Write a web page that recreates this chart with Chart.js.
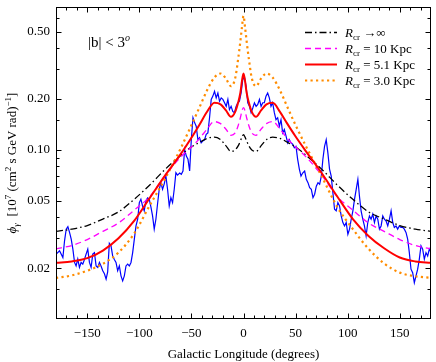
<!DOCTYPE html>
<html>
<head>
<meta charset="utf-8">
<script src="https://cdn.jsdelivr.net/npm/chart.js@4.4.0/dist/chart.umd.min.js"></script>
<style>
  html, body { margin: 0; padding: 0; background: #fff; }
</style>
</head>
<body>
<canvas id="fluxChart" width="436" height="362"></canvas>
<script>
// longitude grid of the model curves (degrees)
const modelLon = [-180, -165, -150, -135, -120, -105, -90, -75, -60, -50, -42, -35, -28, -22, -17, -12, -8, -5, -3, -1.5, 0,
  1.5, 3, 5, 8, 12, 17, 22, 28, 35, 42, 50, 60, 75, 90, 105, 120, 135, 150, 165, 180];

// R_cr -> infinity
const fluxRinf = [0.033, 0.034, 0.0357, 0.039, 0.043, 0.051, 0.062, 0.077, 0.093, 0.104, 0.111, 0.117, 0.119, 0.115, 0.106, 0.098, 0.100, 0.106, 0.113, 0.119, 0.123,
  0.119, 0.113, 0.106, 0.100, 0.098, 0.106, 0.115, 0.119, 0.117, 0.111, 0.104, 0.093, 0.077, 0.062, 0.051, 0.043, 0.039, 0.0357, 0.034, 0.033];
// R_cr = 10 Kpc
const fluxR10 = [0.026, 0.0272, 0.0295, 0.033, 0.037, 0.044, 0.053, 0.071, 0.091, 0.104, 0.117, 0.133, 0.147, 0.143, 0.133, 0.122, 0.126, 0.140, 0.155, 0.170, 0.178,
  0.170, 0.155, 0.140, 0.126, 0.122, 0.133, 0.143, 0.147, 0.133, 0.117, 0.104, 0.091, 0.071, 0.053, 0.044, 0.037, 0.033, 0.0295, 0.0272, 0.026];
// R_cr = 5.1 Kpc
const fluxR51 = [0.0215, 0.0219, 0.0229, 0.0254, 0.030, 0.038, 0.052, 0.071, 0.095, 0.118, 0.142, 0.168, 0.190, 0.186, 0.172, 0.157, 0.168, 0.192, 0.218, 0.255, 0.283,
  0.255, 0.218, 0.192, 0.168, 0.157, 0.172, 0.186, 0.190, 0.168, 0.143, 0.120, 0.098, 0.073, 0.053, 0.039, 0.031, 0.0262, 0.0231, 0.0219, 0.0215];
// R_cr = 3.0 Kpc
const fluxR30 = [0.0175, 0.0181, 0.0193, 0.0212, 0.0247, 0.032, 0.047, 0.068, 0.103, 0.140, 0.180, 0.225, 0.268, 0.283, 0.265, 0.238, 0.265, 0.350, 0.440, 0.530, 0.620,
  0.530, 0.440, 0.350, 0.265, 0.238, 0.265, 0.283, 0.268, 0.225, 0.180, 0.140, 0.105, 0.070, 0.046, 0.034, 0.026, 0.0213, 0.0188, 0.0179, 0.0175];

// measured profile (blue)
const obsLon = [-179.8, -176.6, -173.4, -171.8, -170.2, -168.6, -167.0, -165.4, -163.8, -162.2, -160.7, -159.1, -157.5, -155.9, -154.3, -152.7,
  -151.1, -149.5, -147.9, -146.3, -144.7, -143.1, -141.5, -139.9, -138.3, -136.7, -135.1, -133.5, -131.9, -130.4, -128.8, -127.2,
  -125.6, -124.0, -122.4, -120.8, -119.2, -117.6, -116.0, -114.4, -112.8, -111.2, -109.6, -108.0, -106.4, -104.8, -103.2, -101.6,
  -100.0, -98.5, -96.9, -95.3, -93.7, -92.1, -90.5, -88.9, -87.3, -85.7, -84.1, -82.5, -80.9, -79.3, -77.7, -76.1,
  -74.5, -72.9, -71.3, -69.7, -68.1, -66.5, -64.9, -63.3, -61.3, -59.7, -58.1, -56.5, -54.9, -53.3, -51.7, -50.1,
  -48.5, -46.9, -45.4, -43.8, -42.2, -40.6, -39.0, -37.4, -35.8, -34.2, -32.6, -31.0, -29.4, -27.8, -26.2, -24.6,
  -23.0, -21.4, -19.8, -18.2, -16.6, -15.0, -13.5, -11.9, -10.3, -8.7, -7.1, -5.5, -3.9, -2.3, -0.7, 0.9,
  2.5, 4.1, 5.7, 7.3, 8.9, 10.5, 12.1, 13.7, 15.3, 16.9, 18.5, 20.0, 21.6, 23.2, 24.8, 26.4,
  28.0, 29.6, 31.2, 32.8, 34.4, 36.0, 37.6, 39.2, 40.8, 42.4, 44.0, 45.6, 47.2, 48.8, 50.4, 52.0,
  53.6, 55.2, 56.8, 58.7, 60.3, 61.9, 63.5, 65.1, 66.7, 68.3, 69.9, 71.5, 73.1, 74.7, 76.2, 77.8,
  79.4, 81.0, 82.6, 84.2, 85.8, 87.4, 89.0, 90.6, 92.2, 93.8, 95.4, 97.0, 98.6, 100.2, 101.8, 103.4,
  105.0, 106.6, 108.2, 109.8, 111.3, 112.9, 114.5, 116.1, 117.7, 119.3, 120.9, 122.5, 124.1, 125.7, 127.3, 128.9,
  130.5, 132.1, 133.7, 135.3, 136.9, 138.5, 140.1, 141.7, 143.3, 144.8, 146.4, 148.0, 149.6, 151.2, 152.8, 154.4,
  156.0, 157.6, 159.2, 160.8, 162.4, 164.0, 165.6, 167.2, 168.8, 170.4, 172.0, 173.6, 175.2, 176.8, 178.4, 180.0];
const obsFlux = [0.0242, 0.0253, 0.0231, 0.0290, 0.0340, 0.0352, 0.0325, 0.0297, 0.0259, 0.0216, 0.0206, 0.0226, 0.0202, 0.0216, 0.0211, 0.0225,
  0.0242, 0.0259, 0.0216, 0.0202, 0.0242, 0.0247, 0.0206, 0.0202, 0.0216, 0.0205, 0.0193, 0.0185, 0.0172, 0.0190, 0.0280, 0.0271,
  0.0236, 0.0225, 0.0216, 0.0193, 0.0206, 0.0180, 0.0168, 0.0180, 0.0206, 0.0211, 0.0206, 0.0216, 0.0247, 0.0297, 0.0355, 0.0389,
  0.0488, 0.0511, 0.0466, 0.0436, 0.0499, 0.0520, 0.0511, 0.0460, 0.0407, 0.0340, 0.0389, 0.0480, 0.0585, 0.0640, 0.0585, 0.0630,
  0.0700, 0.0585, 0.0466, 0.0522, 0.0488, 0.0585, 0.0733, 0.0710, 0.0730, 0.0717, 0.0750, 0.1007, 0.0920, 0.0880, 0.0750, 0.1150,
  0.155, 0.145, 0.138, 0.115, 0.118, 0.110, 0.113, 0.115, 0.1235, 0.126, 0.155, 0.199, 0.208, 0.222, 0.203, 0.217,
  0.194, 0.203, 0.199, 0.190, 0.181, 0.199, 0.173, 0.181, 0.169, 0.166, 0.181, 0.190, 0.194, 0.217, 0.260, 0.270,
  0.238, 0.190, 0.181, 0.166, 0.177, 0.190, 0.181, 0.186, 0.199, 0.181, 0.190, 0.190, 0.208, 0.217, 0.203, 0.181,
  0.190, 0.166, 0.151, 0.155, 0.138, 0.151, 0.126, 0.132, 0.121, 0.110, 0.115, 0.110, 0.108, 0.103, 0.105, 0.088,
  0.077, 0.070, 0.073, 0.075, 0.067, 0.064, 0.0598, 0.0585, 0.0522, 0.0547, 0.061, 0.064, 0.0626, 0.070, 0.088, 0.105,
  0.115, 0.096, 0.077, 0.070, 0.0559, 0.0446, 0.0436, 0.0488, 0.0466, 0.0407, 0.0372, 0.0355, 0.0372, 0.0317, 0.034, 0.0389,
  0.0436, 0.0511, 0.0585, 0.067, 0.0534, 0.0436, 0.0389, 0.0355, 0.031, 0.0372, 0.0407, 0.0389, 0.0417, 0.0372, 0.0407, 0.0389,
  0.034, 0.0355, 0.0407, 0.0389, 0.038, 0.0355, 0.0389, 0.0436, 0.0372, 0.0348, 0.0355, 0.034, 0.0355, 0.0348, 0.0348, 0.034,
  0.0325, 0.0297, 0.0247, 0.0197, 0.0188, 0.0164, 0.018, 0.0197, 0.0226, 0.0271, 0.0259, 0.0226, 0.0247, 0.0236, 0.0259, 0.0247];

const xTicks = [-150, -100, -50, 0, 50, 100, 150];
const yTicks = [0.02, 0.05, 0.1, 0.2, 0.5];
const yMinorTicks = [0.015, 0.03, 0.04, 0.06, 0.07, 0.08, 0.09, 0.15, 0.3, 0.4, 0.6, 0.7];
const legendText = ['\u2192\u221E', '= 10 Kpc', '= 5.1 Kpc', '= 3.0 Kpc'];

const SERIF = '"Liberation Serif", "DejaVu Serif", serif';
Chart.defaults.font.family = SERIF;
Chart.defaults.color = '#000';

const pts = (xs, ys) => xs.map((x, i) => ({ x: x, y: ys[i] }));

function drawParts(ctx, x, y, parts) {
  let cx = x;
  parts.forEach(p => {
    ctx.font = (p.it ? 'italic ' : '') + p.size + 'px ' + SERIF;
    ctx.fillText(p.t, cx, y + (p.dy || 0));
    cx += ctx.measureText(p.t).width;
  });
  return cx - x;
}
function partsWidth(ctx, parts) {
  let w = 0;
  parts.forEach(p => {
    ctx.font = (p.it ? 'italic ' : '') + p.size + 'px ' + SERIF;
    w += ctx.measureText(p.t).width;
  });
  return w;
}

// frame + inward ticks on all four sides
const frameTicks = {
  id: 'frameTicks',
  afterDatasetsDraw(chart) {
    const { ctx, chartArea: a, scales: { x, y } } = chart;
    const L = Math.round(a.left) + 0.5, R = Math.round(a.right) - 0.5;
    const T = Math.round(a.top) + 0.5, B = Math.round(a.bottom) - 0.5;
    ctx.save();
    ctx.strokeStyle = '#000';
    ctx.lineWidth = 1;
    ctx.beginPath();
    for (let v = -170; v < 180; v += 10) {
      const len = v % 50 === 0 ? 5 : 3;
      const px = Math.round(x.getPixelForValue(v)) + 0.5;
      ctx.moveTo(px, B); ctx.lineTo(px, B - len);
      ctx.moveTo(px, T); ctx.lineTo(px, T + len);
    }
    yTicks.concat(yMinorTicks).forEach(v => {
      const len = yTicks.includes(v) ? 5 : 3;
      const py = Math.round(y.getPixelForValue(v)) + 0.5;
      ctx.moveTo(L, py); ctx.lineTo(L + len, py);
      ctx.moveTo(R, py); ctx.lineTo(R - len, py);
    });
    ctx.stroke();
    ctx.strokeRect(L, T, R - L, B - T);
    ctx.restore();
  }
};

// legend, |b| label, y axis title
const annotations = {
  id: 'annotations',
  afterDraw(chart) {
    const ctx = chart.ctx;
    ctx.save();
    ctx.fillStyle = '#000';
    ctx.textBaseline = 'alphabetic';

    const series = chart.data.datasets.slice(0, 4);
    series.forEach((ds, i) => {
      const rowY = 32.5 + i * 16;
      ctx.save();
      ctx.strokeStyle = ds.borderColor;
      ctx.lineWidth = ds.borderWidth;
      ctx.setLineDash(ds.borderDash || []);
      ctx.beginPath();
      ctx.moveTo(305, rowY);
      ctx.lineTo(337, rowY);
      ctx.stroke();
      ctx.restore();
      drawParts(ctx, 345, rowY + 4.5, [
        { t: 'R', it: true, size: 13 },
        { t: 'cr', size: 9, dy: 3 },
        { t: ' ' + legendText[i], size: 13 }
      ]);
    });

    drawParts(ctx, 88, 47, [
      { t: '|b| < 3', size: 15 },
      { t: 'o', it: true, size: 10, dy: -6 }
    ]);

    const title = [
      { t: '\u03D5', it: true, size: 13 },
      { t: '\u03B3', it: true, size: 9, dy: 3 },
      { t: '  [10', size: 13 },
      { t: '7', size: 9, dy: -5 },
      { t: ' (cm', size: 13 },
      { t: '2', size: 9, dy: -5 },
      { t: ' s GeV rad)', size: 13 },
      { t: '\u22121', size: 9, dy: -5 },
      { t: ']', size: 13 }
    ];
    const a = chart.chartArea;
    ctx.translate(16, (a.top + a.bottom) / 2);
    ctx.rotate(-Math.PI / 2);
    drawParts(ctx, -partsWidth(ctx, title) / 2, 0, title);
    ctx.restore();
  }
};

const ctx = document.getElementById('fluxChart').getContext('2d');
const fluxChart = new Chart(ctx, {
  type: 'line',
  data: {
    datasets: [
      {
        label: 'R_cr \u2192\u221E',
        data: pts(modelLon, fluxRinf),
        borderColor: '#000000',
        borderWidth: 1.3,
        borderDash: [7, 3, 1.5, 3],
        cubicInterpolationMode: 'monotone',
        pointRadius: 0,
        order: 4
      },
      {
        label: 'R_cr = 10 Kpc',
        data: pts(modelLon, fluxR10),
        borderColor: '#ff00ff',
        borderWidth: 1.3,
        borderDash: [6, 4],
        cubicInterpolationMode: 'monotone',
        pointRadius: 0,
        order: 3
      },
      {
        label: 'R_cr = 5.1 Kpc',
        data: pts(modelLon, fluxR51),
        borderColor: '#ff0000',
        borderWidth: 2,
        cubicInterpolationMode: 'monotone',
        pointRadius: 0,
        order: 1
      },
      {
        label: 'R_cr = 3.0 Kpc',
        data: pts(modelLon, fluxR30),
        borderColor: '#ff8c00',
        borderWidth: 2.2,
        borderDash: [2.2, 3.3],
        cubicInterpolationMode: 'monotone',
        pointRadius: 0,
        order: 2
      },
      {
        label: 'data',
        data: pts(obsLon, obsFlux),
        borderColor: '#0000ff',
        borderWidth: 1.2,
        tension: 0,
        pointRadius: 0,
        order: 10
      }
    ]
  },
  options: {
    responsive: false,
    animation: false,
    events: [],
    devicePixelRatio: 1,
    layout: { padding: { top: 7, right: 5, left: 0, bottom: 0 } },
    plugins: { legend: { display: false }, tooltip: { enabled: false } },
    scales: {
      x: {
        type: 'linear',
        min: -180,
        max: 180,
        grid: { display: false, drawTicks: false },
        border: { display: false },
        afterBuildTicks: (s) => { s.ticks = xTicks.map(v => ({ value: v })); },
        afterFit: (s) => { s.height = 43; s.paddingLeft = 0; s.paddingRight = 0; },
        ticks: {
          padding: 7,
          maxRotation: 0,
          font: { size: 13 },
          callback: (v) => (v < 0 ? '\u2212' + Math.abs(v) : String(v))
        },
        title: {
          display: true,
          text: 'Galactic Longitude (degrees)',
          font: { size: 13 },
          padding: 0
        }
      },
      y: {
        type: 'logarithmic',
        min: 0.01,
        max: 0.7,
        grid: { display: false, drawTicks: false },
        border: { display: false },
        afterBuildTicks: (s) => { s.ticks = yTicks.map(v => ({ value: v })); },
        afterFit: (s) => { s.width = 56; s.paddingTop = 0; s.paddingBottom = 0; },
        ticks: {
          padding: 6,
          font: { size: 13 },
          callback: (v) => Number(v).toFixed(2)
        }
      }
    }
  },
  plugins: [frameTicks, annotations]
});
</script>
</body>
</html>
